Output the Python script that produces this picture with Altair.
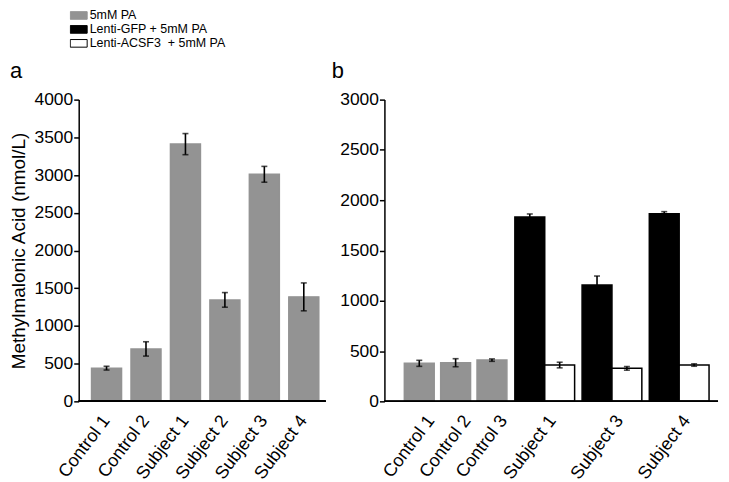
import altair as alt
import pandas as pd

FONT = "Liberation Sans"

# ---- data ----
treatments = ["5mM PA", "Lenti-GFP + 5mM PA", "Lenti-ACSF3\u00a0 + 5mM PA"]
fill_colors = ["#939393", "#000000", "#ffffff"]
stroke_colors = ["#939393", "#000000", "#000000"]

a_samples = ["Control 1", "Control 2", "Subject 1", "Subject 2", "Subject 3", "Subject 4"]
a_means = [440, 695, 3410, 1345, 3010, 1385]
a_errs = [25, 95, 140, 97, 105, 185]

b_controls = ["Control 1", "Control 2", "Control 3"]
b_control_means = [378, 384, 410]
b_control_errs = [30, 40, 12]

b_subjects = ["Subject 1", "Subject 3", "Subject 4"]
gfp_means = [1833, 1157, 1866]
gfp_errs = [30, 89, 20]
acsf3_means = [361, 328, 361]
acsf3_errs = [28, 18, 12]

a_ticks = [0, 500, 1000, 1500, 2000, 2500, 3000, 3500, 4000]
b_ticks = [0, 500, 1000, 1500, 2000, 2500, 3000]
panel_letters = ["a", "b"]

# ---- tables ----
df_a = pd.DataFrame({"Sample": a_samples, "Mean": a_means, "Err": a_errs,
                     "Treatment": [treatments[0]] * len(a_samples)})
df_bc = pd.DataFrame({"Sample": b_controls, "Mean": b_control_means, "Err": b_control_errs,
                      "Treatment": [treatments[0]] * len(b_controls)})
rows = []
for s, gm, ge, am, ae in zip(b_subjects, gfp_means, gfp_errs, acsf3_means, acsf3_errs):
    rows.append({"Sample": s, "Mean": gm, "Err": ge, "Treatment": treatments[1]})
    rows.append({"Sample": s, "Mean": am, "Err": ae, "Treatment": treatments[2]})
df_bs = pd.DataFrame(rows)

W_A, W_B, H = 248, 335, 303

y_axis_common = dict(domainColor="black", domainWidth=1.5, tickColor="black", tickWidth=1.5,
                     tickSize=5, labelColor="black", labelFontSize=17.5, labelFont=FONT,
                     labelPadding=1, grid=False, format="d", labelOverlap=False,
                     labelFlush=False)
x_axis_common = dict(orient="bottom", domain=False, ticks=False, tickSize=0, labelAngle=-53,
                     labelAlign="right", labelBaseline="middle", labelFontSize=18,
                     labelFont=FONT, labelColor="black", labelPadding=16, title=None,
                     labelOverlap=False)

legend = alt.Legend(orient="none", legendX=-9, legendY=-91, title=None,
                    symbolType="M-1,-0.45H1V0.45H-1Z", symbolSize=289, symbolStrokeWidth=1,
                    labelFontSize=12.5, labelFont=FONT, labelColor="black", clipHeight=13,
                    rowPadding=1, labelOffset=2, padding=0)

fill_scale = alt.Scale(domain=treatments, range=fill_colors)
stroke_scale = alt.Scale(domain=treatments, range=stroke_colors)


def letter(df, ch, dx):
    return alt.Chart(df).transform_filter(f"datum.Sample == '{df['Sample'][0]}'").mark_text(
        text=ch, font=FONT, fontSize=22, color="black", align="left", baseline="alphabetic"
    ).encode(x=alt.value(dx), y=alt.value(-22))


# ---- panel a ----
ya_axis = alt.Axis(values=a_ticks, title="Methylmalonic Acid (nmol/L)", titleFontSize=19,
                   titleFont=FONT, titleFontWeight="normal", titleColor="black",
                   titlePadding=5, **y_axis_common)
ya_scale = alt.Scale(domain=[0, 4000], nice=False)
xa = alt.X("Sample:N", sort=a_samples,
           scale=alt.Scale(domain=a_samples, range=[3, 251], paddingInner=0.24, paddingOuter=0.25),
           axis=alt.Axis(**x_axis_common))

base_a = alt.Chart(df_a)
bars_a = base_a.mark_bar(strokeWidth=1.5).encode(
    x=xa,
    y=alt.Y("Mean:Q", scale=ya_scale, axis=ya_axis),
    fill=alt.Fill("Treatment:N", scale=fill_scale, legend=legend),
    stroke=alt.Stroke("Treatment:N", scale=stroke_scale, legend=legend),
)
err_a = base_a.transform_calculate(
    lo="datum.Mean - datum.Err", hi="datum.Mean + datum.Err"
).mark_rule(color="black", strokeWidth=1.6).encode(
    x=xa, y=alt.Y("lo:Q", scale=ya_scale, axis=ya_axis), y2="hi:Q")
caps_a = base_a.transform_calculate(
    lo="datum.Mean - datum.Err", hi="datum.Mean + datum.Err"
).transform_fold(["lo", "hi"]).mark_tick(color="black", thickness=1.6, size=6).encode(
    x=xa, y=alt.Y("value:Q", scale=ya_scale, axis=ya_axis))
baseline_a = base_a.mark_rule(color="black", strokeWidth=1.5).encode(
    y=alt.YDatum(0, scale=ya_scale, axis=ya_axis), x=alt.value(0), x2=alt.value(W_A))
letter_a = letter(df_a, panel_letters[0], -69)

panel_a = alt.layer(bars_a, err_a, caps_a, baseline_a, letter_a).properties(width=W_A, height=H)

# ---- panel b ----
yb_axis = alt.Axis(values=b_ticks, title=None, **y_axis_common)
yb_scale = alt.Scale(domain=[0, 3000], nice=False)

xc = alt.X("Sample:N", sort=b_controls,
           scale=alt.Scale(domain=b_controls, range=[20, 123], paddingInner=0.178, paddingOuter=0),
           axis=alt.Axis(labelOffset=12, **x_axis_common))
xs = alt.X("Sample:N", sort=b_subjects,
           scale=alt.Scale(domain=b_subjects, range=[131, 326], paddingInner=0.111, paddingOuter=0),
           axis=alt.Axis(labelOffset=8, **x_axis_common))
xoff = alt.XOffset("Treatment:N", sort=treatments[1:],
                   scale=alt.Scale(domain=treatments[1:], paddingInner=0, paddingOuter=0))

base_bc = alt.Chart(df_bc)
bars_bc = base_bc.mark_bar(strokeWidth=1.5).encode(
    x=xc, y=alt.Y("Mean:Q", scale=yb_scale, axis=yb_axis),
    fill=alt.Fill("Treatment:N", scale=fill_scale, legend=None),
    stroke=alt.Stroke("Treatment:N", scale=stroke_scale, legend=None),
)
err_bc = base_bc.transform_calculate(
    lo="datum.Mean - datum.Err", hi="datum.Mean + datum.Err"
).mark_rule(color="black", strokeWidth=1.6).encode(
    x=xc, y=alt.Y("lo:Q", scale=yb_scale, axis=yb_axis), y2="hi:Q")
caps_bc = base_bc.transform_calculate(
    lo="datum.Mean - datum.Err", hi="datum.Mean + datum.Err"
).transform_fold(["lo", "hi"]).mark_tick(color="black", thickness=1.6, size=6).encode(
    x=xc, y=alt.Y("value:Q", scale=yb_scale, axis=yb_axis))
letter_b = letter(df_bc, panel_letters[1], -53)
controls_layer = alt.layer(bars_bc, err_bc, caps_bc, letter_b)

base_bs = alt.Chart(df_bs)
bars_bs = base_bs.mark_bar(strokeWidth=1.5).encode(
    x=xs, xOffset=xoff, y=alt.Y("Mean:Q", scale=yb_scale, axis=yb_axis),
    fill=alt.Fill("Treatment:N", scale=fill_scale, legend=None),
    stroke=alt.Stroke("Treatment:N", scale=stroke_scale, legend=None),
)
err_bs = base_bs.transform_calculate(
    lo="datum.Mean - datum.Err", hi="datum.Mean + datum.Err"
).mark_rule(color="black", strokeWidth=1.6).encode(
    x=xs, xOffset=xoff, y=alt.Y("lo:Q", scale=yb_scale, axis=yb_axis), y2="hi:Q")
caps_bs = base_bs.transform_calculate(
    lo="datum.Mean - datum.Err", hi="datum.Mean + datum.Err"
).transform_fold(["lo", "hi"]).mark_tick(color="black", thickness=1.6, size=6).encode(
    x=xs, xOffset=xoff, y=alt.Y("value:Q", scale=yb_scale, axis=yb_axis))
subjects_layer = alt.layer(bars_bs, err_bs, caps_bs)

baseline_b = base_bc.mark_rule(color="black", strokeWidth=1.5).encode(
    y=alt.YDatum(0, scale=yb_scale, axis=yb_axis), x=alt.value(0), x2=alt.value(W_B))

panel_b = alt.layer(controls_layer, subjects_layer, baseline_b).resolve_scale(
    x="independent").resolve_axis(x="independent").properties(width=W_B, height=H)

chart = alt.hconcat(panel_a, panel_b, spacing=5).resolve_scale(
    fill="independent", stroke="independent").resolve_legend(
    fill="independent", stroke="independent").properties(
    padding={"left": 2, "top": 0, "right": 2, "bottom": 0}
).configure(font=FONT).configure_view(strokeWidth=0, stroke="transparent")

chart.save("out.html", embed_options={"renderer": "svg", "actions": False})
